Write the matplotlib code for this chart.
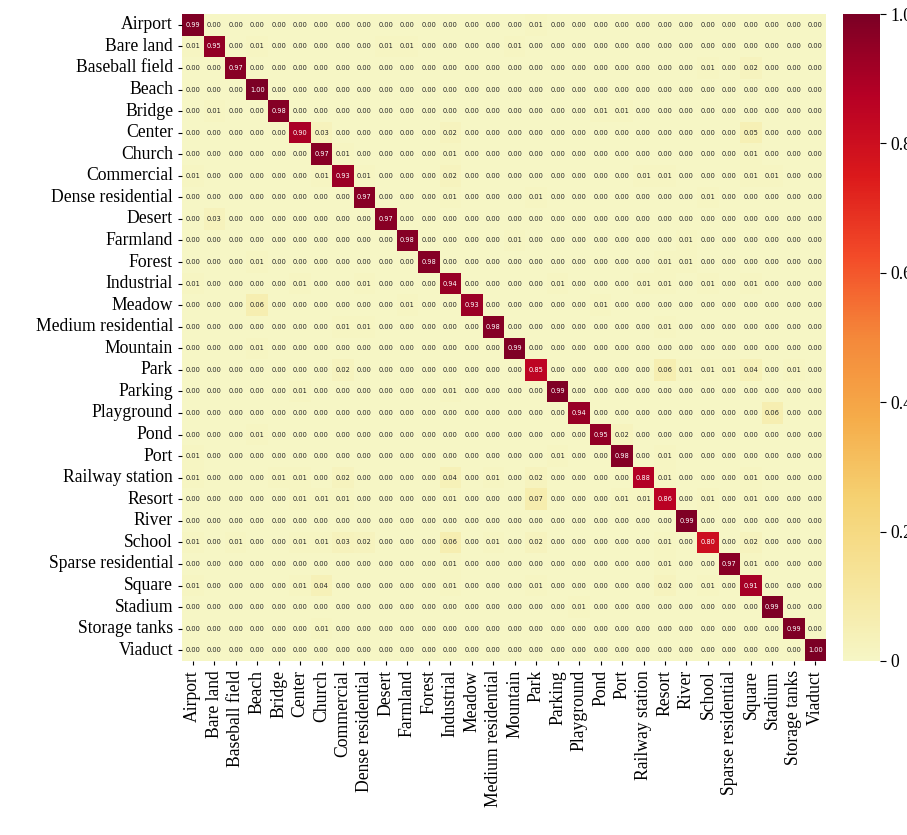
# confusion matrix heatmap, 30 scene classes
import numpy as np
import matplotlib
matplotlib.use('Agg')
import matplotlib.pyplot as plt
from matplotlib.colors import ListedColormap
import seaborn as sns

classes = ['Airport', 'Bare land', 'Baseball field', 'Beach', 'Bridge', 'Center',
           'Church', 'Commercial', 'Dense residential', 'Desert', 'Farmland',
           'Forest', 'Industrial', 'Meadow', 'Medium residential', 'Mountain',
           'Park', 'Parking', 'Playground', 'Pond', 'Port', 'Railway station',
           'Resort', 'River', 'School', 'Sparse residential', 'Square',
           'Stadium', 'Storage tanks', 'Viaduct']

cm = np.array([
    [.99, 0, 0, 0, 0, 0, 0, 0, 0, 0, 0, 0, 0, 0, 0, 0, .01, 0, 0, 0, 0, 0, 0, 0, 0, 0, 0, 0, 0, 0],
    [.01, .95, 0, .01, 0, 0, 0, 0, 0, .01, .01, 0, 0, 0, 0, .01, 0, 0, 0, 0, 0, 0, 0, 0, 0, 0, 0, 0, 0, 0],
    [0, 0, .97, 0, 0, 0, 0, 0, 0, 0, 0, 0, 0, 0, 0, 0, 0, 0, 0, 0, 0, 0, 0, 0, .01, 0, .02, 0, 0, 0],
    [0, 0, 0, 1.0, 0, 0, 0, 0, 0, 0, 0, 0, 0, 0, 0, 0, 0, 0, 0, 0, 0, 0, 0, 0, 0, 0, 0, 0, 0, 0],
    [0, .01, 0, 0, .98, 0, 0, 0, 0, 0, 0, 0, 0, 0, 0, 0, 0, 0, 0, .01, .01, 0, 0, 0, 0, 0, 0, 0, 0, 0],
    [0, 0, 0, 0, 0, .90, .03, 0, 0, 0, 0, 0, .02, 0, 0, 0, 0, 0, 0, 0, 0, 0, 0, 0, 0, 0, .05, 0, 0, 0],
    [0, 0, 0, 0, 0, 0, .97, .01, 0, 0, 0, 0, .01, 0, 0, 0, 0, 0, 0, 0, 0, 0, 0, 0, 0, 0, .01, 0, 0, 0],
    [.01, 0, 0, 0, 0, 0, .01, .93, .01, 0, 0, 0, .02, 0, 0, 0, 0, 0, 0, 0, 0, .01, .01, 0, 0, 0, .01, .01, 0, 0],
    [0, 0, 0, 0, 0, 0, 0, 0, .97, 0, 0, 0, .01, 0, 0, 0, .01, 0, 0, 0, 0, 0, 0, 0, .01, 0, 0, 0, 0, 0],
    [0, .03, 0, 0, 0, 0, 0, 0, 0, .97, 0, 0, 0, 0, 0, 0, 0, 0, 0, 0, 0, 0, 0, 0, 0, 0, 0, 0, 0, 0],
    [0, 0, 0, 0, 0, 0, 0, 0, 0, 0, .98, 0, 0, 0, 0, .01, 0, 0, 0, 0, 0, 0, 0, .01, 0, 0, 0, 0, 0, 0],
    [0, 0, 0, .01, 0, 0, 0, 0, 0, 0, 0, .98, 0, 0, 0, 0, 0, 0, 0, 0, 0, 0, .01, .01, 0, 0, 0, 0, 0, 0],
    [.01, 0, 0, 0, 0, .01, 0, 0, .01, 0, 0, 0, .94, 0, 0, 0, 0, .01, 0, 0, 0, .01, .01, 0, .01, 0, .01, 0, 0, 0],
    [0, 0, 0, .06, 0, 0, 0, 0, 0, 0, .01, 0, 0, .93, 0, 0, 0, 0, 0, .01, 0, 0, 0, 0, 0, 0, 0, 0, 0, 0],
    [0, 0, 0, 0, 0, 0, 0, .01, .01, 0, 0, 0, 0, 0, .98, 0, 0, 0, 0, 0, 0, 0, .01, 0, 0, 0, 0, 0, 0, 0],
    [0, 0, 0, .01, 0, 0, 0, 0, 0, 0, 0, 0, 0, 0, 0, .99, 0, 0, 0, 0, 0, 0, 0, 0, 0, 0, 0, 0, 0, 0],
    [0, 0, 0, 0, 0, 0, 0, .02, 0, 0, 0, 0, 0, 0, 0, 0, .85, 0, 0, 0, 0, 0, .06, .01, .01, .01, .04, 0, .01, 0],
    [0, 0, 0, 0, 0, .01, 0, 0, 0, 0, 0, 0, .01, 0, 0, 0, 0, .99, 0, 0, 0, 0, 0, 0, 0, 0, 0, 0, 0, 0],
    [0, 0, 0, 0, 0, 0, 0, 0, 0, 0, 0, 0, 0, 0, 0, 0, 0, 0, .94, 0, 0, 0, 0, 0, 0, 0, 0, .06, 0, 0],
    [0, 0, 0, .01, 0, 0, 0, 0, 0, 0, 0, 0, 0, 0, 0, 0, 0, 0, 0, .95, .02, 0, 0, 0, 0, 0, 0, 0, 0, 0],
    [.01, 0, 0, 0, 0, 0, 0, 0, 0, 0, 0, 0, 0, 0, 0, 0, 0, .01, 0, 0, .98, 0, .01, 0, 0, 0, 0, 0, 0, 0],
    [.01, 0, 0, 0, .01, .01, 0, .02, 0, 0, 0, 0, .04, 0, .01, 0, .02, 0, 0, 0, 0, .88, .01, 0, 0, 0, .01, 0, 0, 0],
    [0, 0, 0, 0, 0, .01, .01, .01, 0, 0, 0, 0, .01, 0, 0, 0, .07, 0, 0, 0, .01, .01, .86, 0, .01, 0, .01, 0, 0, 0],
    [0, 0, 0, 0, 0, 0, 0, 0, 0, 0, 0, 0, 0, 0, 0, 0, 0, 0, 0, 0, 0, 0, 0, .99, 0, 0, 0, 0, 0, 0],
    [.01, 0, .01, 0, 0, .01, .01, .03, .02, 0, 0, 0, .06, 0, .01, 0, .02, 0, 0, 0, 0, 0, .01, 0, .80, 0, .02, 0, 0, 0],
    [0, 0, 0, 0, 0, 0, 0, 0, 0, 0, 0, 0, .01, 0, 0, 0, 0, 0, 0, 0, 0, 0, .01, 0, 0, .97, .01, 0, 0, 0],
    [.01, 0, 0, 0, 0, .01, .04, 0, 0, 0, 0, 0, .01, 0, 0, 0, .01, 0, 0, 0, 0, 0, .02, 0, .01, 0, .91, 0, 0, 0],
    [0, 0, 0, 0, 0, 0, 0, 0, 0, 0, 0, 0, 0, 0, 0, 0, 0, 0, .01, 0, 0, 0, 0, 0, 0, 0, 0, .99, 0, 0],
    [0, 0, 0, 0, 0, 0, .01, 0, 0, 0, 0, 0, 0, 0, 0, 0, 0, 0, 0, 0, 0, 0, 0, 0, 0, 0, 0, 0, .99, 0],
    [0, 0, 0, 0, 0, 0, 0, 0, 0, 0, 0, 0, 0, 0, 0, 0, 0, 0, 0, 0, 0, 0, 0, 0, 0, 0, 0, 0, 0, 1.0],
])

cbar_ticks = [0, 0.2, 0.4, 0.6, 0.8, 1.0]
cbar_labels = ['0', '0.2', '0.4', '0.6', '0.8', '1.0']

plt.rcParams['font.family'] = ['Liberation Serif', 'DejaVu Serif']

# YlOrRd, toned down a little (the printed figure is slightly duller)
base = plt.get_cmap('YlOrRd')(np.linspace(0, 1, 256))
base[:, :3] *= 0.965
cmap = ListedColormap(base)

fig = plt.figure(figsize=(9.07, 8.35), dpi=100)
ax = fig.add_axes([0.2007, 0.2084, 0.7100, 0.7748])
cax = fig.add_axes([0.9294, 0.2084, 0.0408, 0.7748])

sns.heatmap(cm, ax=ax, cbar_ax=cax, cmap=cmap, vmin=0, vmax=1,
            annot=True, fmt='.2f',
            annot_kws={'fontsize': 4.8, 'family': 'DejaVu Sans'},
            xticklabels=classes, yticklabels=classes)

ax.set_xticklabels(classes, rotation=90, fontsize=12.7)
ax.set_yticklabels(classes, rotation=0, fontsize=12.7)
ax.tick_params(length=3, width=0.8)

cax.set_yticks(cbar_ticks)
cax.set_yticklabels(cbar_labels, fontsize=12.7)
cax.tick_params(length=4, width=0.8)

fig.savefig('out.png', dpi=100)
